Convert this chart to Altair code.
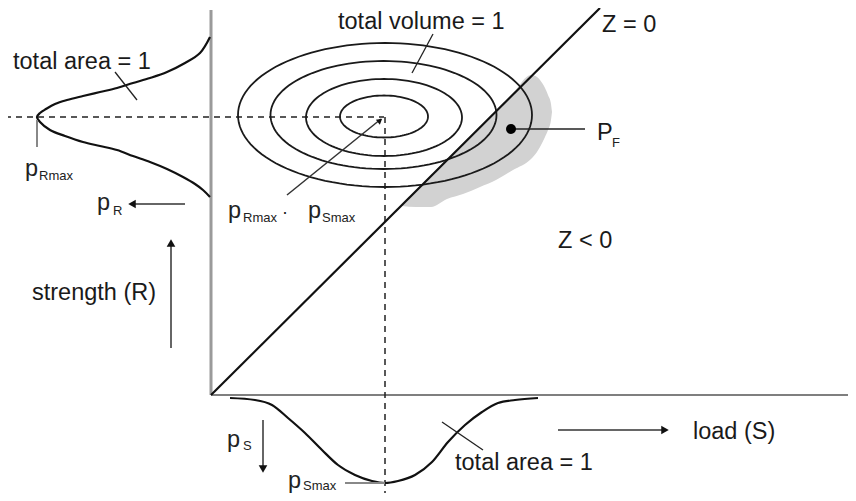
import altair as alt
import pandas as pd
import numpy as np

# Diagram coordinates: S = load (to the right), R = strength (upwards);
# the origin is where the two axes meet.
S_DOMAIN = [-203, 637]
R_DOMAIN = [-98, 387]

# strength density p_R, drawn to the left of the R axis
pR_S = [-1, -11, -26, -44, -61, -78, -94, -111, -128, -144, -156, -165, -171, -174,
        -171, -161, -146, -128, -111, -94, -78, -61, -44, -28, -16, -8, -1]
pR_R = [358, 342, 332, 323, 317, 312, 307, 303, 299, 295, 291, 286, 282, 278,
        273, 265, 259, 253, 249, 245, 239, 233, 226, 218, 211, 205, 198]

# load density p_S, drawn below the S axis
pS_S = [19, 44, 61, 77, 94, 111, 127, 144, 161, 174, 187, 204, 221, 237, 254, 271, 287, 304, 327]
pS_R = [-3, -5, -10, -23, -38, -55, -70, -80, -86, -88, -86, -80, -67, -47, -30, -17, -8, -5, -3]

# contours of the joint density (centre and half-axes)
ell_cS = [173, 173, 172.5, 174]
ell_cR = [278.5, 277.5, 280, 280]
ell_a = [44, 78, 113, 147]
ell_b = [21, 38.5, 54, 72]

# failure region P_F (shaded)
pf_S = [191, 205, 220, 236, 252, 269, 285, 302, 320, 326, 329, 334, 337, 340, 341]
pf_top = [191, 205, 220, 236, 252, 269, 285, 302, 320, 318, 315, 307, 300, 291, 283]
pf_bot = [189, 188, 188, 196, 201, 208, 215, 225, 236, 243, 248, 258, 265, 275, 283]

# straight segments: (S, R, S2, R2)
axis_v = [(0, 0, 0, 385)]
axis_h = [(0, 0, 645, 0)]
limit_line = [(0, 0, 389, 387)]
dashed = [(-206, 278, 173, 278), (174, 278, 174, -106)]
leaders = [(-96, 323, -74, 295), (222, 361, 201, 322), (231, -27, 272, -55),
           (300, 266, 374, 266)]
gray_ticks = [(-174, 275, -174, 248), (134, -88, 174, -88)]
arrows = [(-26, 191, -79, 191), (-40, 47, -40, 152), (52, -25, 52, -74),
          (347, -35, 454, -35), (76, 200, 170, 276)]
# arrow heads: S, R, angle, size
heads = [(-79, 191, 270, 75), (-40, 152, 0, 75), (52, -74, 180, 75),
         (454, -35, 90, 75), (169, 274.5, 51, 40)]

# labels
main_labels = ["total area = 1", "total volume = 1", "Z = 0", "Z < 0", "strength (R)",
               "total area = 1", "load (S)", "P", "·"]
main_S = [-198, 127, 391, 347, -179, 244, 482, 386, 71]
main_R = [333, 373, 370, 154, 102, -68, -37, 262, 182]
main_size = [23.5, 23.5, 23.5, 23.5, 23.5, 23.5, 23.5, 23.5, 18]

sym_labels = ["p", "Rmax", "p", "R", "p", "Rmax", "p", "Smax", "p", "S", "p", "Smax", "F"]
sym_S = [-186, -172, -114, -98, 17, 32, 97, 111, 16, 32, 77, 92, 401]
sym_R = [219, 215, 185, 180, 177, 173, 177, 173, -52, -55, -93, -95, 248]
sym_size = [23.5, 13, 23.5, 13, 23.5, 13, 23.5, 13, 23.5, 13, 23.5, 13, 13]

FONT = "Liberation Sans"


def xenc(field="S"):
    return alt.X(f"{field}:Q", scale=alt.Scale(domain=S_DOMAIN, nice=False, zero=False), axis=None)


def yenc(field="R"):
    return alt.Y(f"{field}:Q", scale=alt.Scale(domain=R_DOMAIN, nice=False, zero=False), axis=None)


def seg_df(rows):
    return pd.DataFrame(rows, columns=["S", "R", "S2", "R2"])


def rules(rows, **mark):
    return alt.Chart(seg_df(rows)).mark_rule(**mark).encode(
        x=xenc(), y=yenc(), x2="S2:Q", y2="R2:Q")


# shaded failure region
pf_df = pd.DataFrame({"S": pf_S, "top": pf_top, "bot": pf_bot})
pf_layer = alt.Chart(pf_df).mark_area(color="#d2d2d2", opacity=1, interpolate="monotone").encode(
    x=xenc(), y=yenc("top"), y2="bot:Q")

# ellipses
rows = []
for k in range(len(ell_a)):
    for j, t in enumerate(np.linspace(0, 2 * np.pi, 121)):
        rows.append({"id": k, "i": j,
                     "S": ell_cS[k] + ell_a[k] * np.cos(t),
                     "R": ell_cR[k] + ell_b[k] * np.sin(t)})
ell_df = pd.DataFrame(rows)
ell_layer = alt.Chart(ell_df).mark_line(color="#1a1a1a", strokeWidth=1.8).encode(
    x=xenc(), y=yenc(), order="i:Q", detail="id:N")

# density curves
pR_df = pd.DataFrame({"S": pR_S, "R": pR_R, "i": range(len(pR_S))})
pS_df = pd.DataFrame({"S": pS_S, "R": pS_R, "i": range(len(pS_S))})
pR_layer = alt.Chart(pR_df).mark_line(color="#111", strokeWidth=2.2, interpolate="catmull-rom").encode(
    x=xenc(), y=yenc(), order="i:Q")
pS_layer = alt.Chart(pS_df).mark_line(color="#111", strokeWidth=2.2, interpolate="monotone").encode(
    x=xenc(), y=yenc(), order="i:Q")

heads_df = pd.DataFrame(heads, columns=["S", "R", "ang", "sz"])
heads_layer = alt.Chart(heads_df).mark_point(shape="triangle-up", filled=True, opacity=1,
                                             color="#111").encode(
    x=xenc(), y=yenc(), angle=alt.Angle("ang:Q", scale=None), size=alt.Size("sz:Q", scale=None))

dot_layer = alt.Chart(pd.DataFrame({"S": [300], "R": [266]})).mark_circle(
    color="#000", opacity=1, size=100).encode(x=xenc(), y=yenc())

main_df = pd.DataFrame({"S": main_S, "R": main_R, "t": main_labels, "fs": main_size})
main_text = alt.Chart(main_df).mark_text(align="left", baseline="middle", font=FONT,
                                         color="#1a1a1a").encode(
    x=xenc(), y=yenc(), text="t:N", size=alt.Size("fs:Q", scale=None))

sym_df = pd.DataFrame({"S": sym_S, "R": sym_R, "t": sym_labels, "fs": sym_size})
sym_text = alt.Chart(sym_df).mark_text(align="left", baseline="alphabetic", font=FONT,
                                       color="#222").encode(
    x=xenc(), y=yenc(), text="t:N", size=alt.Size("fs:Q", scale=None))

chart = alt.layer(
    pf_layer,
    rules(axis_v, color="#9a9a9a", strokeWidth=3),
    rules(axis_h, color="#555", strokeWidth=1.5),
    rules(dashed, color="#222", strokeWidth=1.5, strokeDash=[6, 5]),
    ell_layer,
    rules(limit_line, color="#111", strokeWidth=2.2),
    pR_layer,
    pS_layer,
    rules(leaders, color="#222", strokeWidth=1.3),
    rules(gray_ticks, color="#888", strokeWidth=2),
    rules(arrows, color="#333", strokeWidth=1.5),
    heads_layer,
    dot_layer,
    main_text,
    sym_text,
).properties(
    width=840, height=485, padding=0,
    autosize=alt.AutoSizeParams(type="none"),
).configure_view(strokeWidth=0)

chart.save("out.html", embed_options={"renderer": "svg", "actions": False})
